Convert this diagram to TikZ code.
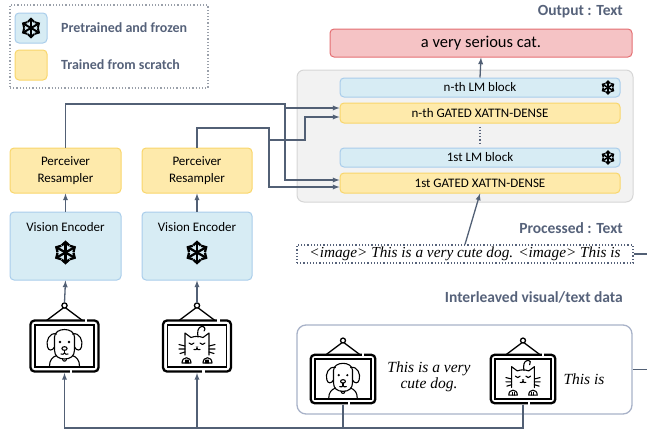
\documentclass[tikz,border=0pt]{standalone}
\usepackage{fontspec}
\setmainfont{Carlito}
\newfontfamily\serifit{Liberation Serif}
\usetikzlibrary{positioning}

\definecolor{frozenfill}{HTML}{D7ECF4}
\definecolor{frozenline}{HTML}{A9CDEB}
\definecolor{trainedfill}{HTML}{FEEAAB}
\definecolor{trainedline}{HTML}{F9D66B}
\definecolor{outfill}{HTML}{F5C3C5}
\definecolor{outline}{HTML}{E46E72}
\definecolor{lmfill}{HTML}{F2F2F2}
\definecolor{lmline}{HTML}{D6D6D6}
\definecolor{linkcol}{HTML}{526075}
\definecolor{headcol}{HTML}{56627A}
\definecolor{interline}{HTML}{A8B2C8}
\definecolor{legendline}{HTML}{9AA0AA}

\tikzset{
  box/.style={draw, line width=1pt, inner sep=0pt, rounded corners=4pt,
    font=\fontsize{13}{17}\selectfont, align=center},
  frozen/.style={box, draw=frozenline, fill=frozenfill},
  trained/.style={box, draw=trainedline, fill=trainedfill},
  lmstep/.style={box, rounded corners=2pt, minimum width=280pt, minimum height=19pt,
    font=\fontsize{13}{15}\selectfont},
  link/.style={draw=linkcol, line width=1.3pt, -latex},
  wire/.style={draw=linkcol, line width=1.3pt},
  heading/.style={font=\fontsize{15.5}{17}\selectfont\bfseries, text=headcol,
    anchor=east, inner sep=0pt},
  icon/.style={line width=1.1pt, line cap=round, line join=round},
  pics/snowflake/.style={code={
    \foreach \a in {0,60,...,300}{
      \begin{scope}[rotate=\a, line width=#1]
        \draw (0,0) -- (0,-9.8);
        \draw (-3.4,-6.4) -- (0,-9.6) -- (3.4,-6.4);
      \end{scope}}
  }},
  photo/.pic={
    \draw[line width=2.3pt, rounded corners=4pt] (-34,-25.5) rectangle (34,25.5);
    \fill[white] (20,-27.5) rectangle (22.5,-23.5);
    \fill[white] (5,23.5) rectangle (7.5,27.5);
    \draw[line width=1.3pt] (-29.5,-21) rectangle (29.5,21);
    \draw[line width=1.3pt, line join=round] (-18,-25.5) -- (0,-39) -- (18,-25.5);
    \draw[line width=1.3pt, fill=white] (0,-40.5) circle (2.6);
    \coordinate (-top) at (0,-43.5);
    \coordinate (-bot) at (0,27);
  },
  dog/.pic={
    \begin{scope}[icon]
      % ears
      \draw (-8,-12) .. controls (-15,-14) and (-19,-5) .. (-17,1) .. controls (-16,5) and (-12,5) .. (-10,1);
      \draw (8,-12) .. controls (15,-14) and (19,-5) .. (17,1) .. controls (16,5) and (12,5) .. (10,1);
      % head
      \draw (-10,4) -- (-10,-9) .. controls (-10,-19) and (10,-19) .. (10,-9) -- (10,4)
        .. controls (10,10) and (6,13) .. (0,13) .. controls (-6,13) and (-10,10) .. (-10,4);
      \fill (-4.5,-4) circle (1.3); \fill (4.5,-4) circle (1.3);
      \draw (0,2.5) ellipse (2.6 and 1.8);
      \draw (0,4.3) -- (0,7);
      \draw (-3.5,8) .. controls (-2,9) and (-0.5,8) .. (0,7) .. controls (0.5,8) and (2,9) .. (3.5,8);
      \draw (-2,12.8) .. controls (-2,16) and (2,16) .. (2,12.8);
      % shoulders
      \draw (-15,20) .. controls (-15,14) and (-12,11) .. (-8,9.5);
      \draw (15,20) .. controls (15,14) and (12,11) .. (8,9.5);
    \end{scope}
  },
  cat/.pic={
    \begin{scope}[icon]
      % tail
      \draw (1,-9) .. controls (0,-14) and (1,-19) .. (4.5,-19.5) .. controls (7.5,-20) and (9,-17) .. (7,-15);
      % head
      \draw (-12,9) -- (-12,-13) -- (-6,-8.5) .. controls (-2,-10) and (2,-10) .. (6,-8.5) -- (12,-13) -- (12,9);
      \draw (-8,-3) .. controls (-6.5,-1) and (-4.5,-1) .. (-3,-3);
      \draw (3,-3) .. controls (4.5,-1) and (6.5,-1) .. (8,-3);
      \fill (-1.3,0.5) -- (1.3,0.5) -- (0,2) -- cycle;
      \draw (-3,3.5) .. controls (-1.5,4.5) and (0,3.5) .. (0,2) .. controls (0,3.5) and (1.5,4.5) .. (3,3.5);
      % whiskers
      \draw (-12,0) -- (-18,-1.5) (-12,3) -- (-18,3) (-12,6) -- (-17,7.5);
      \draw (12,0) -- (18,-1.5) (12,3) -- (18,3) (12,6) -- (17,7.5);
      % paws
      \draw[fill=white] (-15,17) .. controls (-15,10) and (-6,10) .. (-6,17) -- cycle;
      \draw[fill=white] (6,17) .. controls (6,10) and (15,10) .. (15,17) -- cycle;
      \draw (-11,14) -- (-11,17) (-9,14) -- (-9,17) (9,14) -- (9,17) (11,14) -- (11,17);
    \end{scope}
  },
}

\begin{document}
\begin{tikzpicture}[x=1pt, y=-1pt]
  \useasboundingbox (0,0) rectangle (647,431);

  % legend
  \node[draw=legendline, dotted, line width=1.2pt, minimum width=198pt, minimum height=83pt] (legend) at (109,46.5) {};
  \node[frozen, minimum width=32pt, minimum height=30pt] (keyfrozen) at (31,28) {};
  \pic[scale=0.95] at (keyfrozen) {snowflake=2pt};
  \node[trained, minimum width=32pt, minimum height=30pt] (keytrained) at (31,65) {};
  \node[heading, anchor=west, font=\fontsize{14}{16}\selectfont\bfseries] (keyfrozentxt) at (61,28) {Pretrained and frozen};
  \node[heading, anchor=west, font=\fontsize{14}{16}\selectfont\bfseries] (keytrainedtxt) at (61,65) {Trained from scratch};

  % language model side
  \node[heading] (outlabel) at (623,12) {Output : Text};
  \node[box, draw=outline, fill=outfill, minimum width=302pt, minimum height=28pt,
        font=\fontsize{16.5}{18}\selectfont] (out) at (481,43) {a very serious cat.};
  \node[box, draw=lmline, fill=lmfill, rounded corners=7pt, minimum width=336pt, minimum height=132pt] (lm) at (465,136) {};
  \node[lmstep, frozen] (lmn) at (480,87.5) {n-th LM block};
  \node[lmstep, trained, minimum height=20pt] (gxn) at (480,113) {n-th GATED XATTN-DENSE};
  \node[lmstep, frozen] (lm1) at (480,157.5) {1st LM block};
  \node[lmstep, trained, minimum height=20pt] (gx1) at (480,183) {1st GATED XATTN-DENSE};
  \pic[scale=0.65] at (608,87.5) {snowflake=1.5pt};
  \pic[scale=0.65] at (608,157.5) {snowflake=1.5pt};
  \draw[draw=headcol, line width=1.2pt, dotted, shorten >=3pt, shorten <=3pt] (gxn.south) -- (lm1.north);
  \draw[link] (lmn.north) -- (out.south);

  % vision side
  \node[trained, minimum width=111pt, minimum height=45pt] (pr1) at (65.5,170.5) {Perceiver\\Resampler};
  \node[trained, minimum width=110pt, minimum height=45pt] (pr2) at (197,170.5) {Perceiver\\Resampler};
  \node[frozen, minimum width=111pt, minimum height=68pt] (ve1) at (65.5,246) {};
  \node[frozen, minimum width=110pt, minimum height=68pt] (ve2) at (197,246) {};
  \node[font=\fontsize{13}{15}\selectfont] (ve1txt) at (65.5,227) {Vision Encoder};
  \node[font=\fontsize{13}{15}\selectfont] (ve2txt) at (197,227) {Vision Encoder};
  \pic[scale=1.1] at (65.5,252.5) {snowflake=2.3pt};
  \pic[scale=1.1] at (197,252.5) {snowflake=2.3pt};
  \draw[link] (ve1.north) -- (pr1.south);
  \draw[link] (ve2.north) -- (pr2.south);

  \pic (f1) at (64.5,346) {photo};
  \pic at (64.5,346) {dog};
  \pic (f2) at (197,346) {photo};
  \pic at (197,346) {cat};
  \draw[link] (f1-top) -- (ve1.south);
  \draw[link] (f2-top) -- (ve2.south);

  % perceiver outputs into the gated layers
  \coordinate (gxn-a) at ([yshift=5pt]gxn.west);
  \coordinate (gxn-b) at ([yshift=-4pt]gxn.west);
  \coordinate (gx1-a) at ([yshift=3pt]gx1.west);
  \coordinate (gx1-b) at ([yshift=-4pt]gx1.west);
  \coordinate (r1) at (285,104);
  \coordinate (r2) at (269,128);
  \coordinate (r3) at (305,140);
  \draw[link] (pr1.north) |- (r1) |- (gx1-a);
  \draw[link] (r1 |- gxn-a) -- (gxn-a);
  \draw[link] (pr2.north) |- (r2) |- (gx1-b);
  \draw[link] (r2 |- r3) -- (r3) |- (gxn-b);

  % text stream
  \node[heading] (proclabel) at (623,228) {Processed : Text};
  \node[draw=headcol, dotted, line width=1.2pt, minimum width=336pt, minimum height=18pt, inner sep=0pt,
        font=\serifit\itshape\fontsize{15.3}{16}\selectfont] (proc) at (465,254)
        {<image> This is a very cute dog. <image> This is};
  \draw[link] (proc.north) -- (gx1.south);

  % interleaved data
  \node[heading] (interlabel) at (623,297) {Interleaved visual/text data};
  \node[draw=interline, line width=1.3pt, rounded corners=9pt, minimum width=335pt, minimum height=89pt] (inter) at (464.5,369.5) {};
  \pic[scale=0.95] (f3) at (343,379) {photo};
  \pic[scale=0.95] at (343,379) {dog};
  \pic[scale=0.95] (f4) at (523,379) {photo};
  \pic[scale=0.95] at (523,379) {cat};
  \node[font=\serifit\itshape\fontsize{15.5}{15.5}\selectfont, align=center] (dogtxt) at (429,377) {This is a very\\cute dog.};
  \node[font=\serifit\itshape\fontsize{15.5}{15.5}\selectfont] (cattxt) at (584,379) {This is};

  % images back to the encoders
  \coordinate (base) at (0,428);
  \draw[link] (f4-bot) |- (base -| f1-bot) -- (f1-bot);
  \draw[wire] (f3-bot) -- (f3-bot |- base);
  \draw[link] (base -| f2-bot) -- (f2-bot);

  % links leaving on the right
  \coordinate (edge) at (647,254);
  \draw[wire] (proc.east) -- (edge);
  \draw[wire] (inter.east) -- (inter.east -| edge);
\end{tikzpicture}
\end{document}
